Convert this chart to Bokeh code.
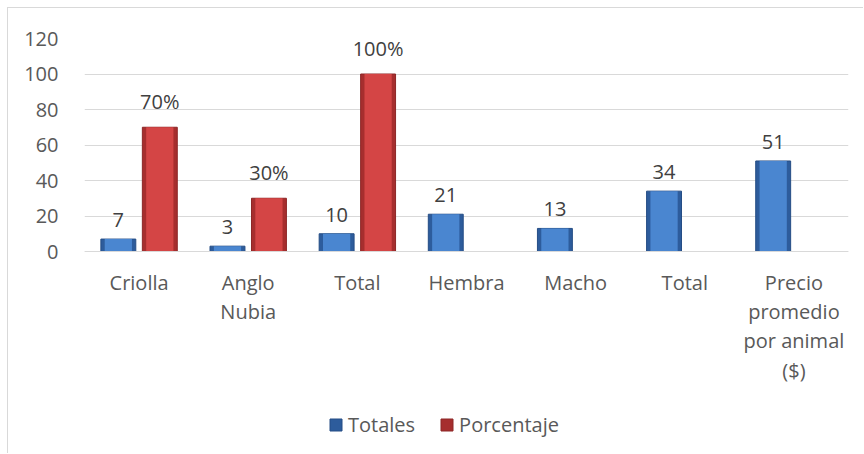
from bokeh.plotting import figure
from bokeh.models import ColumnDataSource, FixedTicker, Legend, LegendItem, Span
from bokeh.transform import dodge
from bokeh.embed import file_html
from bokeh.resources import INLINE
from bokeh.core.properties import value

categories = ["Criolla", "Anglo\nNubia", "Total", "Hembra", "Macho", "Total",
              "Precio\npromedio\npor animal\n($)"]
totales = [7, 3, 10, 21, 13, 34, 51]
porcentaje = [70, 30, 100, None, None, None, None]
porcentaje_labels = ["70%", "30%", "100%", None, None, None, None]
y_ticks = [0, 20, 40, 60, 80, 100, 120]

FONT = "Open Sans"
FS = "20px"
W, H = 856, 446
TOP = 30
AXIS_PX = 213            # pixel height of the 0..120 value span
Y_MAX = 120
frame_h = H - TOP
y_min = -(frame_h - AXIS_PX) * Y_MAX / AXIS_PX

xs = [i + 0.5 for i in range(len(categories))]

src_b = ColumnDataSource(dict(x=xs, v=totales, lbl=[str(t) for t in totales]))
rx, rv, rl = [], [], []
for x, v, l in zip(xs, porcentaje, porcentaje_labels):
    if v is not None:
        rx.append(x); rv.append(v); rl.append(l)
src_r = ColumnDataSource(dict(x=rx, v=rv, lbl=rl))
src_c = ColumnDataSource(dict(x=xs, y=[0] * len(xs), t=categories))

p = figure(width=W, height=H, x_range=(0, len(categories)), y_range=(y_min, Y_MAX),
           output_backend="svg", toolbar_location=None,
           min_border_left=76, min_border_right=16, min_border_top=TOP, min_border_bottom=0)
p.styles = {"position": "relative", "left": "7px", "top": "7px",
            "border-top": "1px solid #d9d9d9", "border-left": "1px solid #d9d9d9"}
p.outline_line_color = None
p.xgrid.grid_line_color = None
p.ygrid.grid_line_color = "#d9d9d9"
p.ygrid.grid_line_width = 1
p.xaxis.visible = False

p.yaxis.ticker = FixedTicker(ticks=y_ticks)
p.yaxis.axis_line_color = None
p.yaxis.major_tick_line_color = None
p.yaxis.minor_tick_line_color = None
p.yaxis.major_label_standoff = 20
p.yaxis.major_label_text_font = FONT
p.yaxis.major_label_text_font_size = FS
p.yaxis.major_label_text_color = "#595959"

p.add_layout(Span(location=0, dimension="width", line_color="#d9d9d9", line_width=1))

# category labels under the baseline
p.text(x="x", y="y", text="t", source=src_c, text_align="center", text_baseline="top",
       y_offset=17, text_font=value(FONT), text_font_size=FS, text_color="#595959",
       text_line_height=1.09)

off = 0.19
w = 0.32
rb = p.vbar(x=dodge("x", -off, range=p.x_range), top="v", bottom=0, width=w, source=src_b,
            fill_color="#2d5c9c", line_color="#254d85", line_width=1)
p.vbar(x=dodge("x", -off, range=p.x_range), top="v", bottom=0, width=w * 0.78, source=src_b,
       fill_color="#4a86d0", line_color=None)
rr = p.vbar(x=dodge("x", off, range=p.x_range), top="v", bottom=0, width=w, source=src_r,
            fill_color="#a62e2e", line_color="#8c2626", line_width=1)
p.vbar(x=dodge("x", off, range=p.x_range), top="v", bottom=0, width=w * 0.78, source=src_r,
       fill_color="#d44545", line_color=None)

for src, o in ((src_b, -off), (src_r, off)):
    p.text(x=dodge("x", o, range=p.x_range), y="v", text="lbl", source=src,
           text_align="center", text_baseline="bottom", y_offset=-12,
           text_font=value(FONT), text_font_size=FS, text_color="#404040")

legend = Legend(items=[LegendItem(label="Totales", renderers=[rb]),
                       LegendItem(label="Porcentaje", renderers=[rr])],
                orientation="horizontal", location=(244, 16),
                border_line_color=None, background_fill_alpha=0,
                label_text_font=FONT, label_text_font_size=FS, label_text_color="#595959",
                glyph_width=15, glyph_height=15, spacing=24, label_standoff=5,
                padding=0, margin=0)
p.add_layout(legend, "center")

open("out.html", "w").write(file_html(p, INLINE))
